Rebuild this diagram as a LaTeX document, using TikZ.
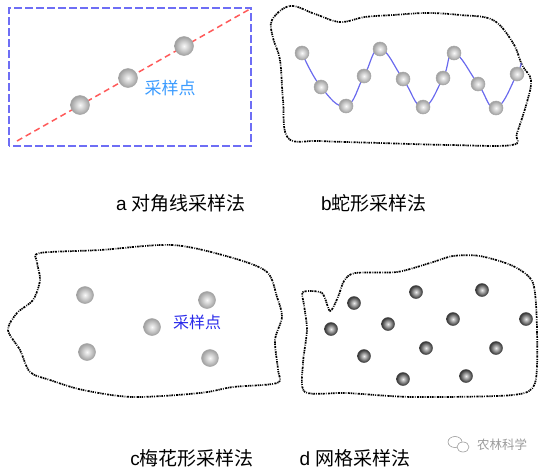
\documentclass[tikz,border=0pt]{standalone}
\usepackage{fontspec}
\setmainfont{Liberation Sans}
\newfontfamily\cjk{Noto Sans CJK SC}
\usetikzlibrary{shapes.geometric}
\definecolor{rectblue}{HTML}{6E6EF5}
\definecolor{diagred}{HTML}{FF5A5A}
\definecolor{lblblue}{HTML}{3A9BFF}
\definecolor{lblblue2}{HTML}{2B2BEA}
\definecolor{curveblue}{HTML}{6A6AEE}
\definecolor{wmgray}{HTML}{9A9A9A}
\tikzset{
  sphere/.style={circle, inner sep=0pt, shading=radial, inner color=gray!5, outer color=gray!75, draw=gray!70, line width=0.5pt},
  ballA/.style={sphere, minimum size=19pt},
  ballB/.style={sphere, minimum size=14pt},
  ballC/.style={sphere, minimum size=17pt},
  ballD/.style={circle, inner sep=0pt, minimum size=13pt, shading=radial, inner color=gray!15, outer color=black!80, draw=black!70, line width=0.5pt},
  field/.style={line width=1.7pt, dash pattern=on 1.2pt off 0.9pt on 2.2pt off 1.4pt on 0.8pt off 1.1pt on 1.6pt off 0.7pt},
  caption/.style={font=\fontsize{19}{21}\selectfont, anchor=center, inner sep=0pt},
  ptlabel/.style={font=\cjk\fontsize{17}{19}\selectfont, inner sep=0pt}
}
\begin{document}
\begin{tikzpicture}[x=1pt, y=-1pt]
\useasboundingbox (0,0) rectangle (545,469);
% ---------- panel a
\coordinate (aSW) at (9,146);
\coordinate (aNE) at (251,8);
\coordinate (aS) at (17,141);
\coordinate (aE) at (250,9);
\draw[rectblue, line width=1.5pt, dash pattern=on 8pt off 3pt] (aSW) rectangle (aNE);
\draw[diagred, line width=1.5pt, dash pattern=on 6pt off 4pt] (aS) -- (aE);
\node[ballA] (a1) at (80,105) {};
\node[ballA] (a2) at (128,78) {};
\node[ballA] (a3) at (184,46) {};
\node[ptlabel, text=lblblue] (alab) at (170,88) {采样点};
% ---------- panel b
\draw[field] plot[smooth cycle, tension=0.6] coordinates {
 (272,20) (290,6) (315,14) (340,22) (365,17) (393,15) (427,13) (460,15) (493,20)
 (513,43) (522,65) (531,80) (527,102) (517,133) (512,145) (450,145) (380,143) (320,141) (288,138)
 (283,100) (280,60) (273,38)};
\coordinate (b1) at (302,53);
\coordinate (b2) at (321,87);
\coordinate (b3) at (346,106);
\coordinate (b4) at (364,76);
\coordinate (b5) at (380,49);
\coordinate (b6) at (403,79);
\coordinate (b7) at (423,107);
\coordinate (b8) at (443,78);
\coordinate (b9) at (454,53);
\coordinate (b10) at (478,84);
\coordinate (b11) at (496,108);
\coordinate (b12) at (517,74);
\coordinate (bEnd) at (521,63);
\draw[curveblue, line width=1.2pt] plot[smooth, tension=0.75] coordinates {
 (b1) (b2) (b3) (b4) (b5) (b6) (b7) (b8) (b9) (b10) (b11) (b12) (bEnd)};
\foreach \i in {1,...,12} { \node[ballB] (B\i) at (b\i) {}; }
% ---------- panel c
\draw[field] plot[smooth cycle, tension=0.5] coordinates {
 (40,253) (100,250) (173,245) (233,258) (267,272) (277,297) (282,317) (275,340)
 (278,370) (277,383) (233,387) (200,393) (133,397) (83,390) (50,380) (30,372)
 (20,350) (8,330) (17,313) (33,300) (40,280) (37,262)};
\node[ballC] (c1) at (85,295) {};
\node[ballC] (c2) at (207,300) {};
\node[ballC] (c3) at (152,327) {};
\node[ballC] (c4) at (87,352) {};
\node[ballC] (c5) at (210,358) {};
\node[ptlabel, text=lblblue2, font=\cjk\fontsize{16}{18}\selectfont] (clab) at (197,322) {采样点};
% ---------- panel d
\draw[field] plot[smooth cycle, tension=0.45] coordinates {
 (303,292) (322,293) (330,311) (338,297) (344,281) (355,273) (397,272) (430,263)
 (453,256) (480,256) (513,266) (533,283) (537,330) (535,383) (513,395) (413,397)
 (347,393) (305,392) (303,363) (307,330) (304,305)};
\node[ballD] (d1) at (354,303) {};
\node[ballD] (d2) at (331,329) {};
\node[ballD] (d3) at (416,292) {};
\node[ballD] (d4) at (482,290) {};
\node[ballD] (d5) at (388,324) {};
\node[ballD] (d6) at (453,319) {};
\node[ballD] (d7) at (526,319) {};
\node[ballD] (d8) at (364,356) {};
\node[ballD] (d9) at (426,348) {};
\node[ballD] (d10) at (496,348) {};
\node[ballD] (d11) at (403,379) {};
\node[ballD] (d12) at (466,376) {};
% ---------- captions
\node[caption] (capa) at (181,203) {a {\cjk 对角线采样法}};
\node[caption] (capb) at (374,203) {b{\cjk 蛇形采样法}};
\node[caption] (capc) at (192,458) {c{\cjk 梅花形采样法}};
\node[caption] (capd) at (355,458) {d {\cjk 网格采样法}};
% ---------- watermark
\draw[wmgray, line width=0.6pt] (455,442) ellipse (7pt and 5.5pt);
\draw[wmgray, line width=0.6pt, fill=white] (463,447) ellipse (6pt and 5pt);
\node[font=\cjk\fontsize{12.5}{14}\selectfont, text=wmgray, inner sep=0pt] (wm) at (502,445) {农林科学};
\end{tikzpicture}
\end{document}
